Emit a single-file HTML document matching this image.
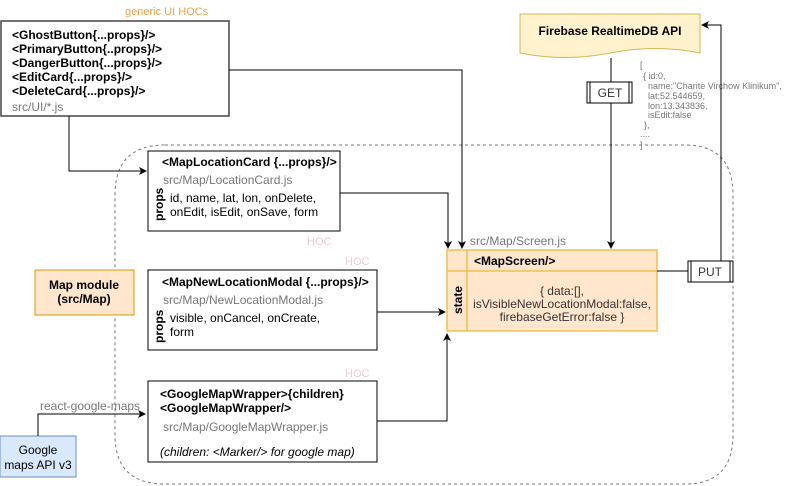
<!DOCTYPE html>
<html><head><meta charset="utf-8"><style>
body{margin:0;background:#fff}
svg{display:block;font-family:"Liberation Sans",Arial,sans-serif}
.b{font-weight:bold;font-size:12px;fill:#000}
.g{font-size:12px;fill:#777}
.t{font-size:12px;fill:#000}
.h{font-size:11px;fill:#f0c8d8}
</style></head><body>
<svg width="785" height="486" viewBox="0 0 785 486">
<defs><marker id="a" markerWidth="8" markerHeight="8" refX="7" refY="4" orient="auto" markerUnits="userSpaceOnUse"><path d="M0,0 L8,4 L0,8 L2,4z" fill="#000"/></marker></defs>
<path d="M165,145 H685 Q733,145 733,195 V435 Q733,484 685,484 H165 Q115,484 115,435 V195 Q115,145 165,145Z" fill="none" stroke="#777" stroke-dasharray="3,3"/>
<text x="125" y="15" font-size="11" fill="#f5a04a">generic UI HOCs</text>
<rect x="1" y="21" width="228" height="95" fill="#fff" stroke="#444" stroke-width="1.5"/>
<text class="b" x="12" y="39">&lt;GhostButton{...props}/&gt;</text>
<text class="b" x="12" y="53">&lt;PrimaryButton{..props}/&gt;</text>
<text class="b" x="12" y="67">&lt;DangerButton{...props}/&gt;</text>
<text class="b" x="12" y="81">&lt;EditCard{...props}/&gt;</text>
<text class="b" x="12" y="95">&lt;DeleteCard{...props}/&gt;</text>
<text class="g" x="12" y="111">src/UI/*.js</text>
<path d="M69,116 V171 H146" fill="none" stroke="#000" marker-end="url(#a)"/>
<path d="M229,70 H462 V248" fill="none" stroke="#000" marker-end="url(#a)"/>
<rect x="148" y="151" width="192" height="80" fill="#fff" stroke="#000"/>
<text class="b" x="162" y="166">&lt;MapLocationCard {...props}/&gt;</text>
<text class="g" x="163" y="184">src/Map/LocationCard.js</text>
<text class="b" transform="translate(163,221) rotate(-90)">props</text>
<text class="t" x="170" y="202">id, name, lat, lon, onDelete,</text>
<text class="t" x="170" y="216">onEdit, isEdit, onSave, form</text>
<path d="M340,193 H448 V248" fill="none" stroke="#000" marker-end="url(#a)"/>
<text class="h" x="307" y="245">HOC</text>
<text class="h" x="345" y="265">HOC</text>
<text class="h" x="345" y="377">HOC</text>
<rect x="148" y="270" width="229" height="80" fill="#fff" stroke="#000"/>
<text class="b" x="162" y="286">&lt;MapNewLocationModal {...props}/&gt;</text>
<text class="g" x="163" y="304">src/Map/NewLocationModal.js</text>
<text class="b" transform="translate(163,343) rotate(-90)">props</text>
<text class="t" x="170" y="322">visible, onCancel, onCreate,</text>
<text class="t" x="170" y="336">form</text>
<path d="M377,312 H445" fill="none" stroke="#000" marker-end="url(#a)"/>
<rect x="148" y="381" width="229" height="81" fill="#fff" stroke="#000"/>
<text class="b" x="160" y="398">&lt;GoogleMapWrapper&gt;{children}</text>
<text class="b" x="160" y="412">&lt;GoogleMapWrapper/&gt;</text>
<text class="g" x="163" y="431">src/Map/GoogleMapWrapper.js</text>
<text x="160" y="456" font-size="12" font-style="italic" fill="#000">(children: &lt;Marker/&gt; for google map)</text>
<path d="M377,421 H447 V334" fill="none" stroke="#000" marker-end="url(#a)"/>
<rect x="35" y="270" width="99" height="45" fill="#ffe6cc" stroke="#d79b00"/>
<text class="b" x="84" y="289" text-anchor="middle">Map module</text>
<text class="b" x="84" y="303" text-anchor="middle">(src/Map)</text>
<rect x="0" y="436" width="76" height="41" fill="#dae8fc" stroke="#6c8ebf"/>
<text class="t" x="38" y="454" text-anchor="middle">Google</text>
<text class="t" x="38" y="469" text-anchor="middle">maps API v3</text>
<path d="M38,436 V414 H145" fill="none" stroke="#000" marker-end="url(#a)"/>
<text class="g" x="40" y="410">react-google-maps</text>
<text class="g" x="470" y="245">src/Map/Screen.js</text>
<rect x="447" y="250" width="210" height="81" fill="#ffe6cc" stroke="#f0c050" stroke-width="1.5"/>
<line x1="447" y1="271" x2="657" y2="271" stroke="#f0c050" stroke-width="1.5"/>
<line x1="467" y1="250" x2="467" y2="331" stroke="#f0c050" stroke-width="1.5"/>
<text class="b" x="474" y="265" fill="#222">&lt;MapScreen/&gt;</text>
<text class="b" transform="translate(462,314) rotate(-90)">state</text>
<text x="562" y="295" font-size="12" fill="#333" text-anchor="middle">{ data:[],</text>
<text x="562" y="308" font-size="12" fill="#333" text-anchor="middle">isVisibleNewLocationModal:false,</text>
<text x="562" y="321" font-size="12" fill="#333" text-anchor="middle">firebaseGetError:false }</text>
<path d="M520,14 H700 V53 Q655,44 610,53 Q565,62 520,53Z" fill="#fff2cc" stroke="#d6b656"/>
<text class="b" x="610" y="35" text-anchor="middle" fill="#333">Firebase RealtimeDB API</text>
<path d="M611,58 V248" fill="none" stroke="#000" marker-end="url(#a)"/>
<rect x="587" y="82" width="45" height="21" fill="#fff" stroke="#000"/>
<line x1="590" y1="82" x2="590" y2="103" stroke="#000"/><line x1="629" y1="82" x2="629" y2="103" stroke="#000"/>
<text x="610" y="97" font-size="12" text-anchor="middle" fill="#333">GET</text>
<g font-size="9" fill="#777">
<text x="640" y="68">[</text>
<text x="643" y="79">{ id:0,</text>
<text x="648" y="89">name:"Charite Virchow Klinikum",</text>
<text x="648" y="99">lat:52.544659,</text>
<text x="648" y="109">lon:13.343836,</text>
<text x="648" y="118">isEdit:false</text>
<text x="644" y="128">},</text>
<text x="640" y="137">....</text>
<text x="640" y="148">]</text>
</g>
<path d="M657,271 H688" fill="none" stroke="#000"/>
<rect x="688" y="261" width="45" height="21" fill="#fff" stroke="#000"/>
<line x1="691" y1="261" x2="691" y2="282" stroke="#000"/><line x1="730" y1="261" x2="730" y2="282" stroke="#000"/>
<text x="710" y="276" font-size="12" text-anchor="middle" fill="#333">PUT</text>
<path d="M721,261 V25 H702" fill="none" stroke="#000" marker-end="url(#a)"/>
</svg>
</body></html>
